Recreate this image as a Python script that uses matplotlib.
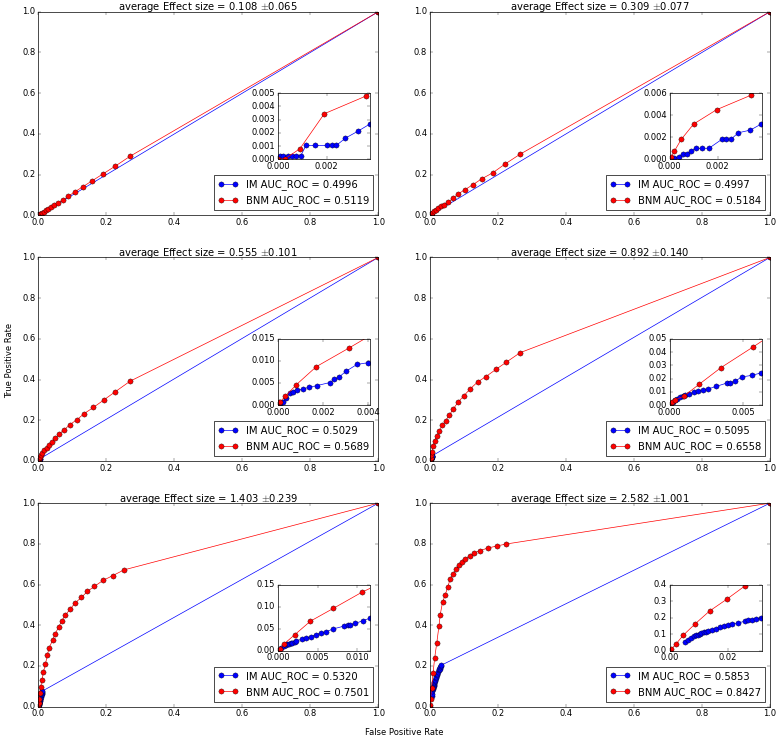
import numpy as np
import matplotlib
matplotlib.use('Agg')
import matplotlib.pyplot as plt

# effect size titles and AUC values for the six panels
effect_mean = [0.108, 0.309, 0.555, 0.892, 1.403, 2.582]
effect_std = [0.065, 0.077, 0.101, 0.140, 0.239, 1.001]
auc_im = [0.4996, 0.4997, 0.5029, 0.5095, 0.5320, 0.5853]
auc_bnm = [0.5119, 0.5184, 0.5689, 0.6558, 0.7501, 0.8427]

# ROC points, panel 1
im_fpr_1 = [0.00007, 0.0002, 0.0004, 0.00056, 0.00075, 0.00094, 0.00115, 0.0015, 0.0020, 0.0022,
            0.0024, 0.00277, 0.0033, 0.00377, 0.0041, 1.0]
im_tpr_1 = [0.00028, 0.00028, 0.00028, 0.00028, 0.00028, 0.00028, 0.00105, 0.00105, 0.00105, 0.00105,
            0.00105, 0.0016, 0.00214, 0.00266, 0.0029, 1.0]
bnm_fpr_1 = [0, 0.0003, 0.0009, 0.0019, 0.0036, 0.006, 0.011, 0.017, 0.023, 0.029, 0.037, 0.046,
             0.059, 0.0735, 0.088, 0.108, 0.130, 0.158, 0.190, 0.226, 0.270, 1.0]
bnm_tpr_1 = [0, 0.00005, 0.0008, 0.00344, 0.00477, 0.0075, 0.012, 0.018, 0.024, 0.031, 0.039, 0.049,
             0.062, 0.076, 0.093, 0.116, 0.139, 0.169, 0.203, 0.241, 0.290, 1.0]

# panel 2
im_fpr_2 = [0, 0.0002, 0.00037, 0.00054, 0.00072, 0.00088, 0.0011, 0.00134, 0.00164, 0.00217,
            0.00234, 0.00255, 0.00286, 0.00337, 0.00382, 0.0042, 1.0]
im_tpr_2 = [0, 0.0001, 0.00024, 0.0005, 0.0005, 0.00076, 0.001, 0.001, 0.001, 0.0018,
            0.0018, 0.0018, 0.0024, 0.00265, 0.0032, 0.0035, 1.0]
bnm_fpr_2 = [0, 0.00007, 0.0002, 0.00048, 0.0010, 0.00196, 0.00338, 0.0065, 0.0118, 0.0176, 0.0245,
             0.032, 0.041, 0.054, 0.068, 0.083, 0.103, 0.127, 0.152, 0.184, 0.221, 0.265, 1.0]
bnm_tpr_2 = [0, 0.0002, 0.00076, 0.0018, 0.0032, 0.0045, 0.0058, 0.011, 0.019, 0.027, 0.036,
             0.044, 0.052, 0.066, 0.084, 0.105, 0.126, 0.151, 0.179, 0.208, 0.252, 0.300, 1.0]

# panel 3
im_fpr_3 = [0, 0.0001, 0.0002, 0.00037, 0.00052, 0.00067, 0.00084, 0.0011, 0.00136, 0.00173,
            0.0023, 0.0025, 0.0027, 0.003, 0.0035, 0.004, 0.0045, 1.0]
im_tpr_3 = [0, 0.0003, 0.0006, 0.0017, 0.0027, 0.003, 0.0033, 0.0036, 0.004, 0.0044,
            0.0051, 0.0059, 0.0063, 0.0076, 0.0092, 0.0096, 0.0105, 1.0]
bnm_fpr_3 = [0, 0.00003, 0.0001, 0.00033, 0.00081, 0.0017, 0.00314, 0.0055, 0.0085, 0.0118, 0.0176,
             0.0245, 0.031, 0.039, 0.049, 0.062, 0.076, 0.093, 0.113, 0.135, 0.162, 0.192, 0.227,
             0.270, 1.0]
bnm_tpr_3 = [0, 0.0006, 0.00076, 0.002, 0.0046, 0.0087, 0.0129, 0.02, 0.03, 0.041, 0.054,
             0.064, 0.078, 0.095, 0.111, 0.134, 0.153, 0.179, 0.202, 0.233, 0.263, 0.299, 0.341,
             0.392, 1.0]

# panel 4
im_fpr_4 = [0, 0.00009, 0.0002, 0.00034, 0.0005, 0.00068, 0.00088, 0.00106, 0.00133, 0.00167,
            0.00196, 0.00227, 0.00264, 0.00315, 0.0039, 0.00414, 0.00448, 0.0049, 0.0056, 0.0062,
            0.0066, 1.0]
im_tpr_4 = [0, 0.0015, 0.0026, 0.0036, 0.0048, 0.0059, 0.0066, 0.0074, 0.0084, 0.0097,
            0.0105, 0.011, 0.0122, 0.014, 0.0166, 0.0168, 0.0181, 0.0212, 0.0224, 0.0242,
            0.0255, 1.0]
bnm_fpr_4 = [0, 0.00016, 0.00034, 0.00095, 0.002, 0.0035, 0.0057, 0.0095, 0.0135, 0.0196, 0.0275,
             0.036, 0.046, 0.057, 0.069, 0.083, 0.100, 0.118, 0.140, 0.164, 0.194, 0.225, 0.265, 1.0]
bnm_tpr_4 = [0, 0.0026, 0.0038, 0.0066, 0.0156, 0.0283, 0.044, 0.072, 0.098, 0.123, 0.147,
             0.175, 0.198, 0.226, 0.257, 0.290, 0.321, 0.354, 0.388, 0.414, 0.450, 0.486, 0.532, 1.0]

# panel 5
im_fpr_5 = [0, 0.00009, 0.00043, 0.00074, 0.001, 0.0012, 0.0014, 0.0016, 0.0018, 0.0021, 0.0023,
            0.003, 0.0036, 0.0042, 0.0048, 0.0054, 0.0061, 0.007, 0.0084, 0.0088, 0.0091, 0.0098,
            0.0108, 0.0117, 0.0122, 1.0]
im_tpr_5 = [0, 0.0015, 0.0069, 0.0099, 0.0129, 0.0145, 0.016, 0.0168, 0.0183, 0.0198, 0.022,
            0.026, 0.029, 0.032, 0.036, 0.040, 0.043, 0.0495, 0.056, 0.058, 0.059, 0.062,
            0.0685, 0.074, 0.077, 1.0]
bnm_fpr_5 = [0, 0.0002, 0.0008, 0.0021, 0.0041, 0.007, 0.0106, 0.015, 0.021, 0.027, 0.032, 0.042,
             0.050, 0.060, 0.069, 0.079, 0.093, 0.109, 0.127, 0.144, 0.165, 0.190, 0.219, 0.252, 1.0]
bnm_tpr_5 = [0, 0.0038, 0.016, 0.036, 0.067, 0.096, 0.1325, 0.170, 0.209, 0.256, 0.290, 0.326,
             0.359, 0.392, 0.421, 0.449, 0.478, 0.511, 0.537, 0.566, 0.591, 0.620, 0.644, 0.672, 1.0]

# panel 6
im_fpr_6 = [0.0054, 0.0063, 0.0072, 0.0083, 0.009, 0.0098, 0.0104, 0.0109, 0.0117, 0.0124, 0.0132,
            0.0147, 0.0161, 0.0175, 0.0188, 0.0201, 0.0216, 0.0236, 0.0261, 0.027, 0.0285, 0.0299,
            0.0316, 0.0335, 1.0]
im_tpr_6 = [0.055, 0.064, 0.076, 0.086, 0.092, 0.098, 0.103, 0.107, 0.111, 0.115, 0.119,
            0.127, 0.133, 0.142, 0.148, 0.154, 0.162, 0.168, 0.178, 0.183, 0.187, 0.193,
            0.199, 0.204, 1.0]
bnm_fpr_6 = [0, 0.0006, 0.0021, 0.0046, 0.0089, 0.0138, 0.0198, 0.0262, 0.030, 0.037, 0.045, 0.052,
             0.059, 0.068, 0.077, 0.085, 0.094, 0.104, 0.117, 0.130, 0.147, 0.172, 0.198, 0.2235, 1.0]
bnm_tpr_6 = [0, 0.01, 0.039, 0.092, 0.164, 0.24, 0.312, 0.394, 0.452, 0.514, 0.550, 0.587,
             0.625, 0.653, 0.675, 0.695, 0.713, 0.726, 0.741, 0.755, 0.767, 0.780, 0.790, 0.799, 1.0]

im_fpr = [im_fpr_1, im_fpr_2, im_fpr_3, im_fpr_4, im_fpr_5, im_fpr_6]
im_tpr = [im_tpr_1, im_tpr_2, im_tpr_3, im_tpr_4, im_tpr_5, im_tpr_6]
bnm_fpr = [bnm_fpr_1, bnm_fpr_2, bnm_fpr_3, bnm_fpr_4, bnm_fpr_5, bnm_fpr_6]
bnm_tpr = [bnm_tpr_1, bnm_tpr_2, bnm_tpr_3, bnm_tpr_4, bnm_tpr_5, bnm_tpr_6]

# zoomed inset limits and ticks
inset_xmax = [0.0038, 0.00386, 0.0041, 0.0063, 0.0117, 0.032]
inset_ymax = [0.005, 0.006, 0.015, 0.05, 0.15, 0.4]
inset_xticks = [[0, 0.002], [0, 0.002], [0, 0.002, 0.004], [0, 0.005], [0, 0.005, 0.010], [0, 0.02]]
inset_yticks = [[0, 0.001, 0.002, 0.003, 0.004, 0.005], [0, 0.002, 0.004, 0.006],
                [0, 0.005, 0.010, 0.015], [0, 0.01, 0.02, 0.03, 0.04, 0.05],
                [0, 0.05, 0.10, 0.15], [0, 0.1, 0.2, 0.3, 0.4]]

plt.style.use('classic')
plt.rcParams['lines.markersize'] = 7.5

fig, axes = plt.subplots(3, 2, figsize=(777 / 50, 740 / 50), dpi=50, facecolor='white')
fig.subplots_adjust(left=0.0493, right=0.991, bottom=0.045, top=0.9842, wspace=0.152, hspace=0.207)

for i, ax in enumerate(axes.flat):
    ax.plot(im_fpr[i], im_tpr[i], 'o-', color='b', label='IM AUC_ROC = %.4f' % auc_im[i])
    ax.plot(bnm_fpr[i], bnm_tpr[i], 'o-', color='r', label='BNM AUC_ROC = %.4f' % auc_bnm[i])
    ax.set_xlim(0, 1)
    ax.set_ylim(0, 1)
    ax.set_title('average Effect size = %.3f $\\pm$%.3f' % (effect_mean[i], effect_std[i]), pad=2)
    ax.legend(loc='lower right')

    ins = ax.inset_axes([0.705, 0.275, 0.272, 0.325])
    ins.plot(im_fpr[i], im_tpr[i], 'o-', color='b')
    ins.plot(bnm_fpr[i], bnm_tpr[i], 'o-', color='r')
    ins.set_xlim(0, inset_xmax[i])
    ins.set_ylim(0, inset_ymax[i])
    ins.set_xticks(inset_xticks[i])
    ins.set_yticks(inset_yticks[i])

fig.text(0.006, 0.513, 'True Positive Rate', rotation=90, va='center', ha='left')
fig.text(0.52, 0.004, 'False Positive Rate', va='bottom', ha='center')

fig.savefig('out.png', dpi=50, facecolor='white')
